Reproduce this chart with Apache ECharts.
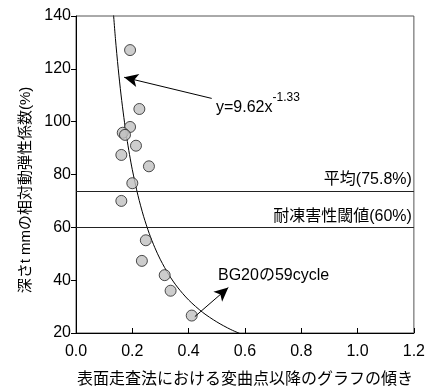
<!DOCTYPE html>
<html><head><meta charset="utf-8">
<script src="https://cdn.jsdelivr.net/npm/echarts@6/dist/echarts.min.js"></script>
<style>html,body{margin:0;padding:0;background:#fff}#c{width:428px;height:390px}</style>
</head><body><div id="c"></div>
<script>
// measured points (x: slope after inflection, y: relative dynamic modulus %)
const pointsX = [0.192,0.225,0.192,0.166,0.174,0.213,0.161,0.259,0.200,0.161,0.248,0.234,0.315,0.336,0.411];
const pointsY = [127.1,104.8,98.0,95.8,95.0,90.9,87.4,83.1,76.7,70.0,55.1,47.3,41.9,36.0,26.6];
// fitted curve y=9.62x^-1.33
const curveX = [0.13,0.14,0.15,0.16,0.17,0.18,0.19,0.20,0.22,0.24,0.26,0.28,0.30,0.33,0.36,0.40,0.45,0.50,0.55,0.60];
const curveY = [145.1,131.5,120.0,110.1,101.6,94.1,87.6,81.8,72.1,64.2,57.7,52.3,47.7,42.0,37.4,32.5,27.8,24.2,21.3,19.0];
const avgLine = 73.8, thresholdLine = 60;
const xTicks = {min:0, max:1.2, interval:0.2};
const yTicks = {min:20, max:140, interval:20};
const fontLatin = '"Liberation Sans", Arial, "Noto Sans CJK JP", sans-serif';

const chart = echarts.init(document.getElementById('c'));
chart.setOption({
  animation:false,
  textStyle:{fontFamily:fontLatin},
  grid:{left:76,right:14,top:16,bottom:57,show:true,borderColor:'#555',borderWidth:1},
  xAxis:{type:'value',min:xTicks.min,max:xTicks.max,interval:xTicks.interval,
    axisLine:{lineStyle:{color:'#000',width:1}},
    axisTick:{inside:true,length:5,lineStyle:{color:'#000'}},
    splitLine:{show:false},
    axisLabel:{color:'#000',fontSize:16,margin:11,fontFamily:fontLatin,formatter:v=>v.toFixed(1)}},
  yAxis:{type:'value',min:yTicks.min,max:yTicks.max,interval:yTicks.interval,
    axisLine:{show:true,lineStyle:{color:'#000',width:1}},
    axisTick:{show:true,inside:false,length:5,lineStyle:{color:'#000'}},
    splitLine:{show:false},
    axisLabel:{color:'#000',fontSize:16,margin:5,fontFamily:fontLatin}},
  series:[
    {type:'line',data:curveX.map((x,i)=>[x,curveY[i]]),showSymbol:false,smooth:0.3,clip:true,
     lineStyle:{color:'#000',width:1},z:2,
     markLine:{silent:true,symbol:'none',animation:false,
       lineStyle:{color:'#222',width:1,type:'solid'},
       label:{show:true,position:'insideEndTop',color:'#000',fontSize:16,fontFamily:fontLatin,distance:[2,3]},
       data:[
         {yAxis:avgLine,label:{formatter:'平均(75.8%)'}},
         {yAxis:thresholdLine,label:{formatter:'耐凍害性閾値(60%)'}}
       ]}},
    {type:'scatter',data:pointsX.map((x,i)=>[x,pointsY[i]]),symbol:'circle',symbolSize:11,
     itemStyle:{color:'#c0c0c0',borderColor:'#222',borderWidth:1},z:3},
    {type:'line',data:[],
     markLine:{silent:true,symbol:['none','arrow'],symbolSize:[10,14],animation:false,
       lineStyle:{color:'#000',width:1,type:'solid'},label:{show:false},
       data:[
         [{coord:[0.482,108.8]},{coord:[0.171,116.8]}],
         [{coord:[0.422,26.2]},{coord:[0.541,37.2]}]
       ]}}
  ],
  graphic:[
    {type:'text',left:216,top:92,style:{rich:{
        b:{fontSize:16,fontFamily:fontLatin,fill:'#000',verticalAlign:'bottom'},
        s:{fontSize:12,fontFamily:fontLatin,fill:'#000',verticalAlign:'top',padding:[0,0,12,0]}},
      text:'{b|y=9.62x}{s|-1.33}'}},
    {type:'text',left:218,top:268,style:{text:'BG20の59cycle',fontSize:16,fontFamily:fontLatin,fill:'#000'}},
    {type:'text',x:26,y:190,rotation:Math.PI/2,style:{text:'深さt mmの相対動弾性係数(%)',fontSize:15,fontFamily:fontLatin,fill:'#000',align:'center',verticalAlign:'middle'}},
    {type:'text',x:245,y:380,style:{text:'表面走査法における変曲点以降のグラフの傾き',fontSize:16,fontFamily:fontLatin,fill:'#000',align:'center',verticalAlign:'middle'}}
  ]
});
</script></body></html>
